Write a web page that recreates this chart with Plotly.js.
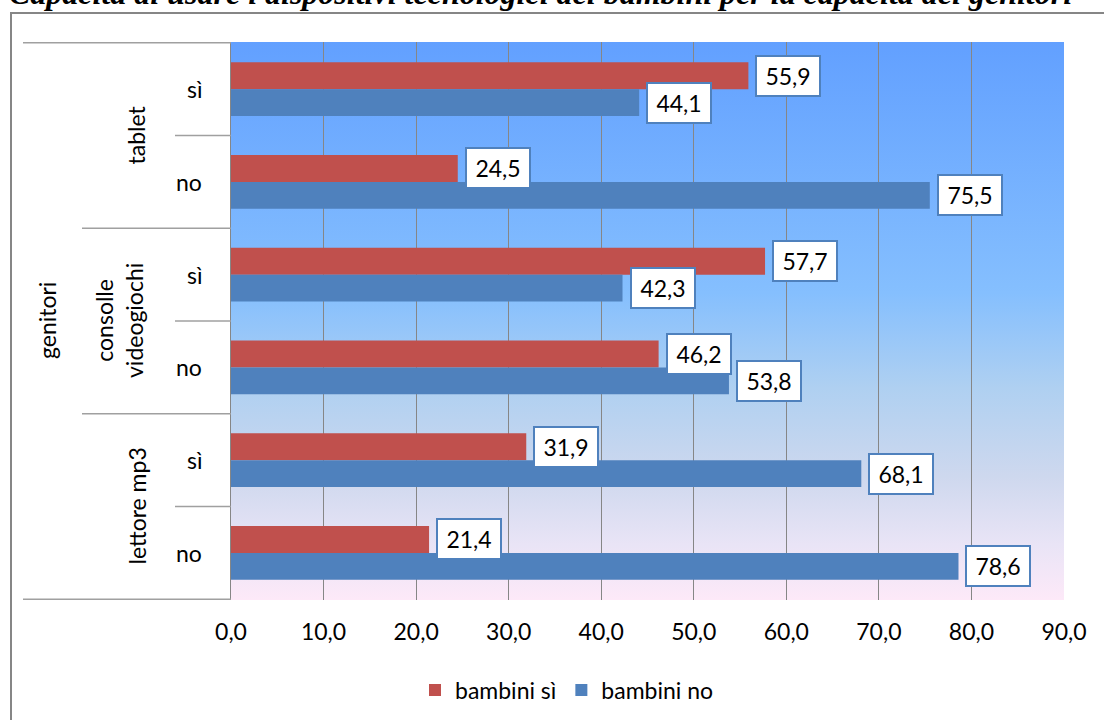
<!DOCTYPE html>
<html>
<head>
<meta charset="utf-8">
<script src="https://cdn.plot.ly/plotly-3.0.1.min.js"></script>
<style>html,body{margin:0;padding:0;background:#fff}#chart{width:1104px;height:720px}</style>
</head>
<body>
<div id="chart"></div>
<script>
// ---- data ----
const titleText = 'Capacità di usare i dispositivi tecnologici dei bambini per la capacità dei genitori';
const outerLabel = 'genitori';
const groups = ['tablet', 'consolle<br>videogiochi', 'lettore mp3'];
const subcats = ['sì', 'no'];
const seriesNames = ['bambini sì', 'bambini no'];
const bambiniSi = [55.9, 24.5, 57.7, 46.2, 31.9, 21.4];
const bambiniNo = [44.1, 75.5, 42.3, 53.8, 68.1, 78.6];
const xTicks = [0, 10, 20, 30, 40, 50, 60, 70, 80, 90];

// ---- layout constants ----
const W = 1104, H = 720, L = 231, R = 40, T = 42, B = 120;
const PW = W - L - R, PH = H - T - B;
const px2x = p => (p - L) / PW;
const py2y = p => (H - B - p) / PH;
const FONT = 'Lato, "Open Sans", sans-serif';
const RED = '#C0504D', BLUE = '#4F81BD', GRID = '#868686';

const cats = [];
groups.forEach(g => subcats.forEach(s => cats.push(g.replace('<br>', ' ') + ' | ' + s)));

const fmt = v => v.toFixed(1).replace('.', ',');

const traces = [
  {type: 'bar', orientation: 'h', name: seriesNames[0], y: cats, x: bambiniSi,
   marker: {color: RED}, hoverinfo: 'x'},
  {type: 'bar', orientation: 'h', name: seriesNames[1], y: cats, x: bambiniNo,
   marker: {color: BLUE}, hoverinfo: 'x'}
];

const annotations = [];
const shapes = [];

// value labels
[[bambiniSi, 13.5], [bambiniNo, -13.5]].forEach(([vals, ys]) => {
  vals.forEach((v, i) => {
    annotations.push({
      x: v, y: cats[i], xref: 'x', yref: 'y', xanchor: 'left', yanchor: 'middle',
      xshift: 7, yshift: ys, text: fmt(v), showarrow: false,
      bgcolor: '#FFFFFF', bordercolor: BLUE, borderwidth: 2, borderpad: 3,
      width: 56, height: 32, font: {family: FONT, size: 23, color: '#000'}
    });
  });
});

// sub-category labels
cats.forEach((c, i) => {
  annotations.push({
    x: px2x(204), y: i, xref: 'paper', yref: 'y', xanchor: 'right', yanchor: 'middle',
    text: subcats[i % subcats.length], showarrow: false,
    font: {family: FONT, size: 23, color: '#000'}
  });
});

// group labels
const groupX = [135, 119, 136];
groups.forEach((g, gi) => {
  annotations.push({
    x: px2x(groupX[gi]), y: gi * subcats.length + (subcats.length - 1) / 2,
    xref: 'paper', yref: 'y', xanchor: 'center', yanchor: 'middle',
    text: g, textangle: -90, showarrow: false,
    font: {family: FONT, size: 23, color: '#000'}
  });
});

// outer label
annotations.push({
  x: px2x(47), y: (cats.length - 1) / 2, xref: 'paper', yref: 'y',
  xanchor: 'center', yanchor: 'middle', text: outerLabel, textangle: -90,
  showarrow: false, font: {family: FONT, size: 23, color: '#000'}
});

// title (clipped at top, as in the reference)
annotations.push({
  x: px2x(540), y: py2y(-7), xref: 'paper', yref: 'paper', xanchor: 'center', yanchor: 'middle',
  text: '<b><i>' + titleText + '</i></b>', showarrow: false,
  font: {family: '"Liberation Serif", "Times New Roman", serif', size: 32, color: '#000'}
});

// divider lines in the category area
for (let k = 0; k <= cats.length; k++) {
  let startPx;
  if (k === 0 || k === cats.length) startPx = 23;
  else if (k % subcats.length === 0) startPx = 82;
  else startPx = 175;
  shapes.push({type: 'line', xref: 'paper', yref: 'y', x0: px2x(startPx), x1: 0,
    y0: k - 0.5, y1: k - 0.5, line: {color: '#A0A0A0', width: 1.5}});
}

// outer frame
shapes.push({type: 'rect', xref: 'paper', yref: 'paper', x0: px2x(11), x1: px2x(1120),
  y0: py2y(740), y1: py2y(13), line: {color: GRID, width: 2}, fillcolor: 'rgba(0,0,0,0)'});

// gradient background
const svg = '<svg xmlns="http://www.w3.org/2000/svg" width="100" height="100" preserveAspectRatio="none">' +
  '<defs><linearGradient id="g" x1="0" y1="0" x2="0" y2="1">' +
  '<stop offset="0" stop-color="#62A0FF"/>' +
  '<stop offset="0.45" stop-color="#85BFFE"/>' +
  '<stop offset="0.62" stop-color="#AFD0F1"/>' +
  '<stop offset="0.78" stop-color="#CED8EE"/>' +
  '<stop offset="0.9" stop-color="#E9E4F6"/>' +
  '<stop offset="1" stop-color="#FDE9F8"/>' +
  '</linearGradient></defs><rect width="100" height="100" fill="url(#g)"/></svg>';
const bgImg = 'data:image/svg+xml;charset=utf-8,' + encodeURIComponent(svg);

const layout = {
  width: W, height: H,
  margin: {l: L, r: R, t: T, b: B, pad: 0, autoexpand: false},
  paper_bgcolor: '#FFFFFF',
  plot_bgcolor: 'rgba(0,0,0,0)',
  separators: ',.',
  font: {family: FONT, size: 23, color: '#000'},
  barmode: 'group', bargap: 0.42, bargroupgap: 0,
  showlegend: true,
  legend: {orientation: 'h', x: px2x(567), xanchor: 'center', y: py2y(690), yanchor: 'middle',
    font: {family: FONT, size: 23, color: '#000'}, traceorder: 'normal', bgcolor: 'rgba(0,0,0,0)'},
  xaxis: {range: [0, 90], tickvals: xTicks, tickformat: '.1f', showgrid: true,
    gridcolor: GRID, gridwidth: 1, zeroline: false, showline: false, ticks: '',
    ticklabelstandoff: 16, tickfont: {family: FONT, size: 23, color: '#000'}, fixedrange: true},
  yaxis: {type: 'category', autorange: 'reversed', showticklabels: false, showgrid: false,
    zeroline: false, showline: true, linecolor: GRID, linewidth: 1, ticks: '', fixedrange: true},
  images: [{source: bgImg, xref: 'paper', yref: 'paper', x: 0, y: 1, sizex: 1, sizey: 1,
    xanchor: 'left', yanchor: 'top', sizing: 'stretch', layer: 'below'}],
  annotations: annotations,
  shapes: shapes
};

Plotly.newPlot('chart', traces, layout, {displayModeBar: false, staticPlot: true});
</script>
</body>
</html>
